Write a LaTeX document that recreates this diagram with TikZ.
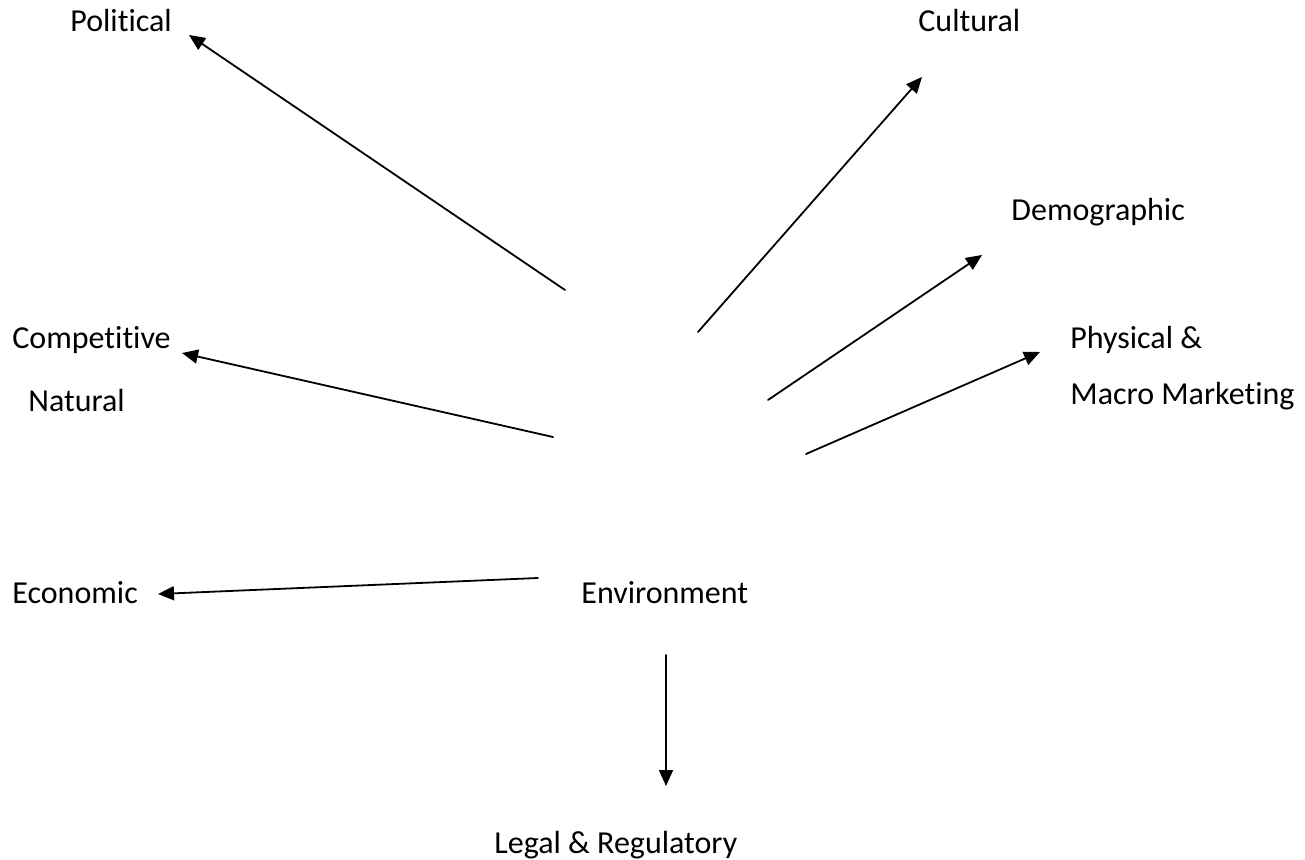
\documentclass[tikz,border=0pt]{standalone}
\usepackage{fontspec}
\setmainfont{Carlito}[Ligatures=NoCommon]
\usetikzlibrary{arrows.meta}

\begin{document}
\begin{tikzpicture}[line cap=round,line join=round,>={Triangle[length=8pt,width=7pt]},x=0.5pt,y=-0.5pt,
  label/.style={anchor=base west,inner sep=0pt,font=\fontsize{16}{19}\selectfont},
  ray/.style={->,line width=0.9pt}]
\useasboundingbox (0,0) rectangle (1305,860);

\coordinate (politicalS) at (565, 290);
\coordinate (politicalE) at (189, 35);
\coordinate (culturalS) at (698, 332);
\coordinate (culturalE) at (922, 77);
\coordinate (demographicS) at (768, 400);
\coordinate (demographicE) at (982, 255);
\coordinate (physicalS) at (806, 454);
\coordinate (physicalE) at (1040, 352);
\coordinate (competitiveS) at (553, 437);
\coordinate (competitiveE) at (182, 353);
\coordinate (economicS) at (538, 578);
\coordinate (economicE) at (158, 594);
\coordinate (legalS) at (666, 655);
\coordinate (legalE) at (666, 786);

\draw[ray] (politicalS) -- (politicalE);
\draw[ray] (culturalS) -- (culturalE);
\draw[ray] (demographicS) -- (demographicE);
\draw[ray] (physicalS) -- (physicalE);
\draw[ray] (competitiveS) -- (competitiveE);
\draw[ray] (economicS) -- (economicE);
\draw[ray] (legalS) -- (legalE);

\node[label] (political) at (70, 32) {Political};
\node[label] (cultural) at (918, 32) {Cultural};
\node[label] (demographic) at (1011, 221) {Demographic};
\node[label] (competitive) at (12, 349) {Competitive};
\node[label] (natural) at (28, 412) {Natural};
\node[label] (physical) at (1070, 349) {Physical \&};
\node[label] (macro) at (1070, 405) {Macro Marketing};
\node[label] (economic) at (12, 603) {Economic};
\node[label] (environment) at (581, 603) {Environment};
\node[label] (legal) at (494, 853) {Legal \& Regulatory};

\end{tikzpicture}
\end{document}
